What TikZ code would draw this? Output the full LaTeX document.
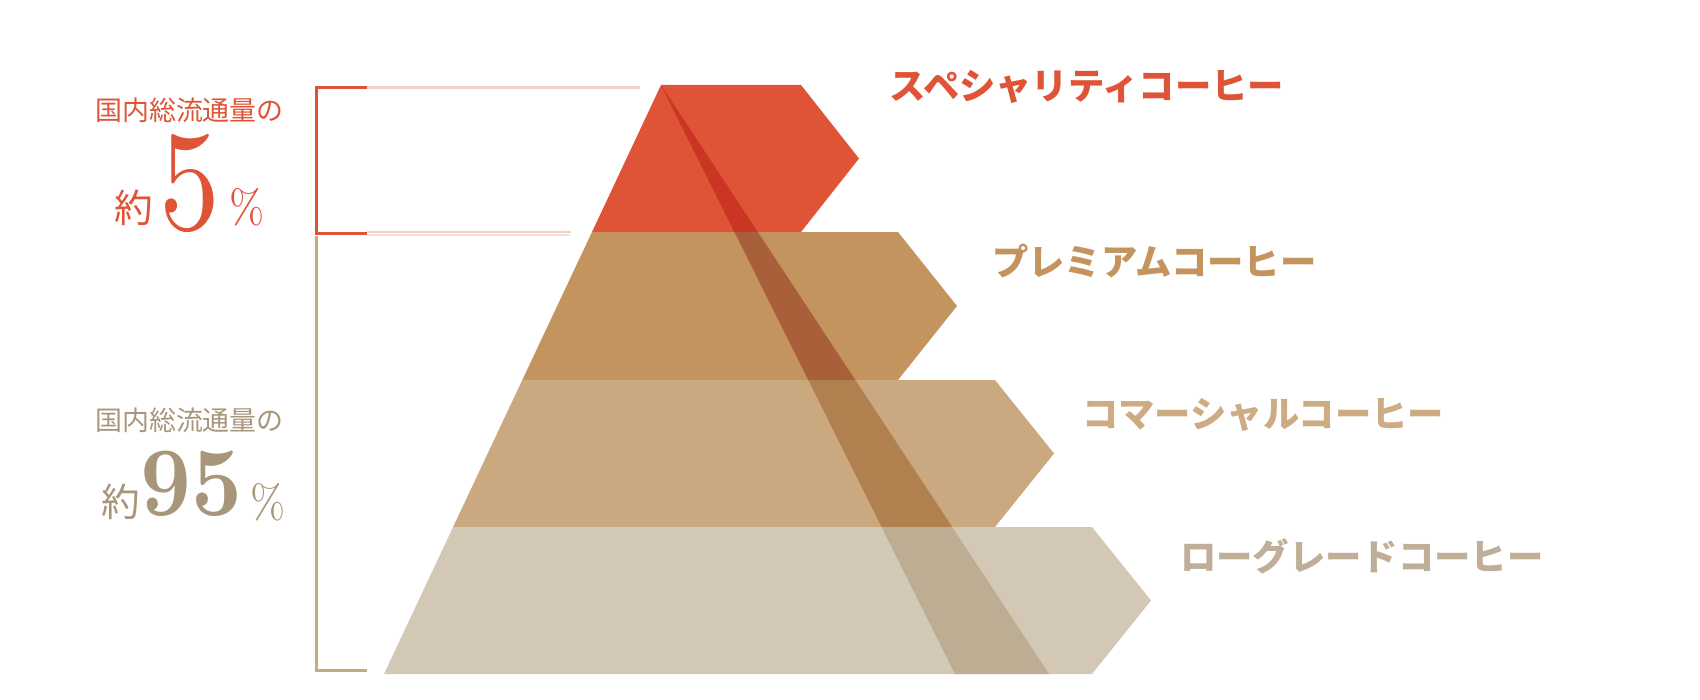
\documentclass[tikz,border=0pt]{standalone}
\usepackage{fontspec}
\usepackage{graphicx}
\newfontfamily\cjk{Noto Sans CJK JP}
\newfontfamily\lmten{lmroman10-regular.otf}
\newfontfamily\lmtenb{lmroman10-bold.otf}
\definecolor{cRed}{HTML}{DF5436}
\definecolor{cRedS}{HTML}{CB3524}
\definecolor{cPrem}{HTML}{C4945F}
\definecolor{cPremS}{HTML}{A9603A}
\definecolor{cCom}{HTML}{CBA980}
\definecolor{cComS}{HTML}{B0804E}
\definecolor{cLow}{HTML}{D3C8B6}
\definecolor{cLowS}{HTML}{BDAD93}
\definecolor{cComT}{HTML}{CDAC84}
\definecolor{cLowT}{HTML}{BFAF98}
\definecolor{cGray}{HTML}{A8967A}
\definecolor{cPink}{HTML}{F6CEC5}
\definecolor{cBeige}{HTML}{F1E4D8}
\definecolor{cTan}{HTML}{C9AA80}
\begin{document}
\begin{tikzpicture}[x=0.3mm,y=-0.3mm,
  lbl/.style={anchor=west,inner sep=0pt,font=\cjk\bfseries\fontsize{31}{36}\selectfont},
  small/.style={inner sep=0pt,font=\cjk\fontsize{23}{26}\selectfont},
  yaku/.style={inner sep=0pt,anchor=base,font=\cjk\fontsize{33}{38}\selectfont},
  pct/.style={inner sep=0pt,anchor=base,font=\lmten\fontsize{40}{44}\selectfont},
  brk/.style={line width=0.9mm}]
\useasboundingbox (0,0) rectangle (1700,700);
% bands
\fill[cRed]  (661,85) -- (801,85) -- (859,158.5) -- (801,232) -- (592,232) -- cycle;
\fill[cPrem] (592,232) -- (898,232) -- (957,306) -- (898,380) -- (522.3,380) -- cycle;
\fill[cCom]  (522.3,380) -- (995,380) -- (1054,453.5) -- (995,527) -- (453.1,527) -- cycle;
\fill[cLow]  (453.1,527) -- (1092,527) -- (1151,600.5) -- (1092,674) -- (384,674) -- cycle;
% stripe
\fill[cRedS]  (661,85) -- (757.8,232) -- (734.4,232) -- cycle;
\fill[cPremS] (734.4,232) -- (757.8,232) -- (855.3,380) -- (808.3,380) -- cycle;
\fill[cComS]  (808.3,380) -- (855.3,380) -- (952.2,527) -- (881.6,527) -- cycle;
\fill[cLowS]  (881.6,527) -- (952.2,527) -- (1049,674) -- (955,674) -- cycle;
% brackets
\coordinate (rt0) at (316,87.3);
\coordinate (rt1) at (366.5,87.3);
\coordinate (rt2) at (640,87.3);
\coordinate (rb0) at (316,233);
\coordinate (rb1) at (366.5,233);
\draw[brk,cPink] (rt1) -- (rt2);
\draw[line width=0.6mm,cPink] (366.5,232.3) -- (571,232.3);
\draw[line width=0.6mm,cBeige] (366.5,234.6) -- (570,234.6);
\draw[brk,cRed] (rt1) -- (rt0) -- (rb0) -- (rb1);
\coordinate (tb0) at (316,236);
\coordinate (tb1) at (316,670);
\coordinate (tb2) at (366.5,670);
\draw[brk,cTan] (tb0) -- (tb1) -- (tb2);
% labels
\node[lbl,text=cRed]  (l1) at (889,87)  {スペシャリティコーヒー};
\node[lbl,text=cPrem] (l2) at (992,261) {プレミアムコーヒー};
\node[lbl,text=cComT] (l3) at (1082,415) {コマーシャルコーヒー};
\node[lbl,text=cLowT] (l4) at (1180,556) {ローグレードコーヒー};
% left texts
\node[small,text=cRed]  (s1) at (189.5,110) {国内総流通量の};
\node[yaku,text=cRed]   (y1) at (134,222) {約};
\node[inner sep=0pt,anchor=base,text=cRed,font=\lmten\fontsize{122}{126}\selectfont] (n1) at (190,229) {\scalebox{0.85}[1]{5}};
\node[pct,text=cRed] (p1) at (247,223) {\scalebox{0.9}[1]{\%}};
\node[small,text=cGray] (s2) at (189.5,420) {国内総流通量の};
\node[yaku,text=cGray]  (y2) at (120.5,516) {約};
\node[inner sep=0pt,anchor=base,text=cGray,font=\lmtenb\fontsize{84}{90}\selectfont] (n2) at (191,515) {\scalebox{0.9}[1]{95}};
\node[pct,text=cGray] (p2) at (268,518) {\scalebox{0.9}[1]{\%}};
\end{tikzpicture}
\end{document}
